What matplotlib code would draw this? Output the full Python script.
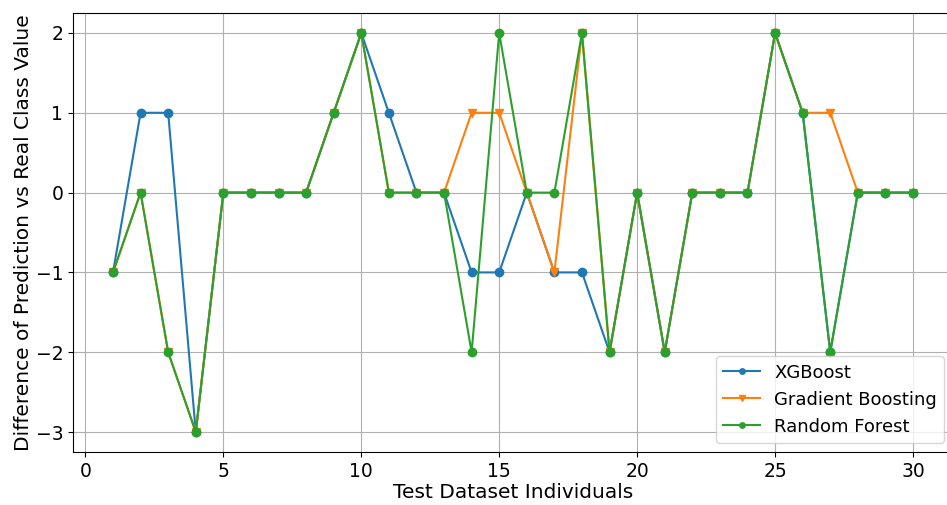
import matplotlib
matplotlib.use("Agg")
import matplotlib.pyplot as plt

individuals = list(range(1, 31))
xgboost = [-1, 1, 1, -3, 0, 0, 0, 0, 1, 2, 1, 0, 0, -1, -1,
           0, -1, -1, -2, 0, -2, 0, 0, 0, 2, 1, -2, 0, 0, 0]
grad_boost = [-1, 0, -2, -3, 0, 0, 0, 0, 1, 2, 0, 0, 0, 1, 1,
              0, -1, 2, -2, 0, -2, 0, 0, 0, 2, 1, 1, 0, 0, 0]
rand_forest = [-1, 0, -2, -3, 0, 0, 0, 0, 1, 2, 0, 0, 0, -2, 2,
               0, 0, 2, -2, 0, -2, 0, 0, 0, 2, 1, -2, 0, 0, 0]

fig = plt.figure(figsize=(9.47, 5.05), dpi=100)
# axes runs slightly past the right edge of the canvas
ax = fig.add_axes([73 / 947, 53 / 505, 880 / 947, 439 / 505])

ax.plot(individuals, xgboost, marker="o", ms=6, lw=1.5, label="XGBoost")
ax.plot(individuals, grad_boost, marker="v", ms=6, lw=1.5, label="Gradient Boosting")
ax.plot(individuals, rand_forest, marker="o", ms=6, lw=1.5, label="Random Forest")

ax.set_xlim(-0.45, 31.45)
ax.set_ylim(-3.25, 2.25)
ax.set_xticks([0, 5, 10, 15, 20, 25, 30])
ax.set_yticks([-3, -2, -1, 0, 1, 2])
ax.tick_params(labelsize=13.5)
ax.set_xlabel("Test Dataset Individuals", fontsize=14.5, labelpad=2)
ax.set_ylabel("Difference of Prediction vs Real Class Value", fontsize=14.5, labelpad=2)
ax.grid(True)
ax.legend(loc="lower right", fontsize=13, markerscale=0.65)

fig.savefig("out.png", dpi=100)
